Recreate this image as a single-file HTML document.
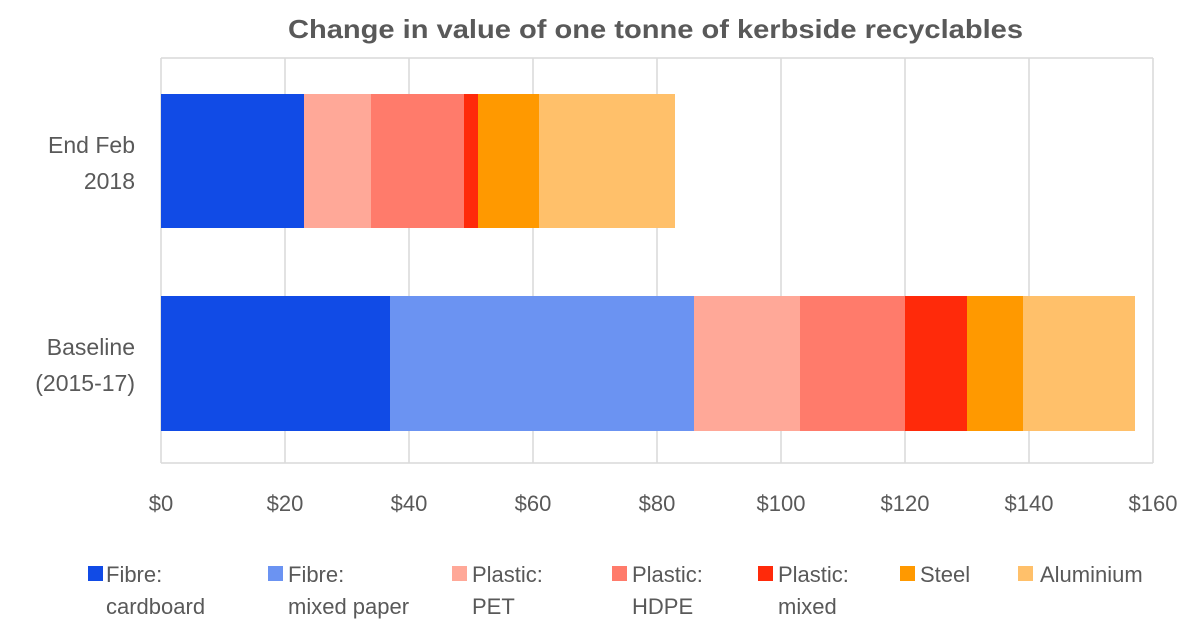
<!DOCTYPE html>
<html><head><meta charset="utf-8"><style>
body{margin:0;background:#fff;}
svg text{font-family:"Liberation Sans",sans-serif;fill:#595959;}
</style></head><body>
<svg width="1200" height="630" xmlns="http://www.w3.org/2000/svg">
<rect width="1200" height="630" fill="#fff"/>
<text x="288" y="38" font-size="26" font-weight="bold" textLength="735" lengthAdjust="spacingAndGlyphs">Change in value of one tonne of kerbside recyclables</text>
<g stroke="#d9d9d9" stroke-width="1.5">
<line x1="285" y1="58" x2="285" y2="463"/><line x1="409" y1="58" x2="409" y2="463"/>
<line x1="533" y1="58" x2="533" y2="463"/><line x1="657" y1="58" x2="657" y2="463"/>
<line x1="781" y1="58" x2="781" y2="463"/><line x1="905" y1="58" x2="905" y2="463"/>
<line x1="1029" y1="58" x2="1029" y2="463"/><line x1="1153" y1="58" x2="1153" y2="463"/>
<line x1="161" y1="58" x2="1153" y2="58"/>
<line x1="161" y1="58" x2="161" y2="463"/>
<line x1="161" y1="463" x2="1153" y2="463"/>
</g>
<g>
<rect x="161" y="94" width="143" height="134" fill="#114BE6"/>
<rect x="304" y="94" width="67" height="134" fill="#FFA898"/>
<rect x="371" y="94" width="93" height="134" fill="#FF7B6B"/>
<rect x="464" y="94" width="14" height="134" fill="#FF2A0A"/>
<rect x="478" y="94" width="61" height="134" fill="#FF9900"/>
<rect x="539" y="94" width="136" height="134" fill="#FFC06A"/>
<rect x="161" y="296" width="229" height="135" fill="#114BE6"/>
<rect x="390" y="296" width="304" height="135" fill="#6B93F2"/>
<rect x="694" y="296" width="106" height="135" fill="#FFA898"/>
<rect x="800" y="296" width="105" height="135" fill="#FF7B6B"/>
<rect x="905" y="296" width="62" height="135" fill="#FF2A0A"/>
<rect x="967" y="296" width="56" height="135" fill="#FF9900"/>
<rect x="1023" y="296" width="112" height="135" fill="#FFC06A"/>
</g>
<g font-size="23" text-anchor="end">
<text x="135" y="153">End Feb</text><text x="135" y="189">2018</text>
<text x="135" y="355">Baseline</text><text x="135" y="391">(2015-17)</text>
</g>
<g font-size="22" text-anchor="middle">
<text x="161" y="511">$0</text><text x="285" y="511">$20</text><text x="409" y="511">$40</text>
<text x="533" y="511">$60</text><text x="657" y="511">$80</text><text x="781" y="511">$100</text>
<text x="905" y="511">$120</text><text x="1029" y="511">$140</text><text x="1153" y="511">$160</text>
</g>
<g font-size="22">
<rect x="88" y="566" width="15" height="15" fill="#114BE6"/><text x="106" y="582">Fibre:</text><text x="106" y="614">cardboard</text>
<rect x="268" y="566" width="15" height="15" fill="#6B93F2"/><text x="288" y="582">Fibre:</text><text x="288" y="614">mixed paper</text>
<rect x="452" y="566" width="15" height="15" fill="#FFA898"/><text x="472" y="582">Plastic:</text><text x="472" y="614">PET</text>
<rect x="612" y="566" width="15" height="15" fill="#FF7B6B"/><text x="632" y="582">Plastic:</text><text x="632" y="614">HDPE</text>
<rect x="758" y="566" width="15" height="15" fill="#FF2A0A"/><text x="778" y="582">Plastic:</text><text x="778" y="614">mixed</text>
<rect x="900" y="566" width="15" height="15" fill="#FF9900"/><text x="920" y="582">Steel</text>
<rect x="1018" y="566" width="15" height="15" fill="#FFC06A"/><text x="1040" y="582">Aluminium</text>
</g>
</svg>
</body></html>
